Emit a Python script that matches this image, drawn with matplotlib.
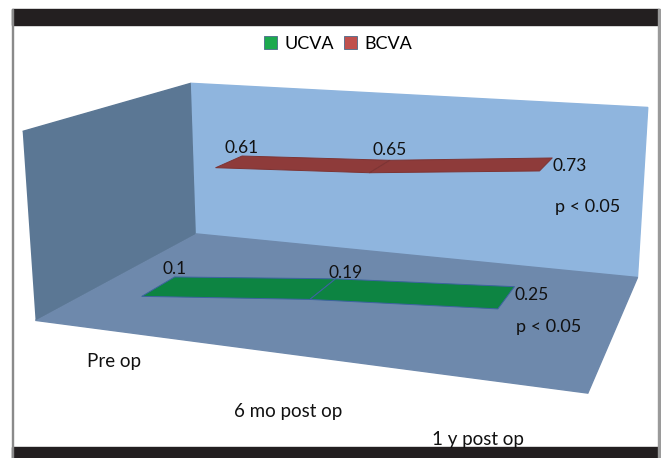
import numpy as np
import matplotlib
matplotlib.use("Agg")
import matplotlib.pyplot as plt
from matplotlib.patches import Patch, Rectangle
from matplotlib.text import Text
from mpl_toolkits.mplot3d.art3d import Poly3DCollection

plt.rcParams['font.family'] = ['Lato', 'DejaVu Sans']

categories = ['Pre op', '6 mo post op', '1 y post op']
ucva = [0.1, 0.19, 0.25]
bcva = [0.61, 0.65, 0.73]
series_names = ['UCVA', 'BCVA']
p_text = ['p < 0.05', 'p < 0.05']

ribbon_colors = ['#0d8442', '#8e3b3a']
ribbon_edges = ['#3d63a0', '#7d3434']
legend_colors = ['#1ca94e', '#c0504d']

W, H = 661, 458
fig = plt.figure(figsize=(W / 100, H / 100), dpi=100)
fig.patch.set_facecolor('white')

# frame: black bands top and bottom, grey side rules
fig.patches.append(Rectangle((12 / W, 1 - 25 / H), 647 / W, 16 / H,
                             transform=fig.transFigure, color='#231f20', zorder=0))
fig.patches.append(Rectangle((12 / W, 0), 647 / W, 11 / H,
                             transform=fig.transFigure, color='#231f20', zorder=0))
fig.patches.append(Rectangle((11.5 / W, 0), 1.6 / W, 449 / H,
                             transform=fig.transFigure, color='#8a8a8a', zorder=0))
fig.patches.append(Rectangle((658 / W, 0), 2 / W, 449 / H,
                             transform=fig.transFigure, color='#9a9a9a', zorder=0))

# 3-D box: elevation, azimuth and perspective of the chart view.
# The projected box is scaled by `scale` px per view unit and centred at (ox, oy).
scale, ox, oy = 3428.97, 353.13, 209.93
side = H
left = ox - side / 2
ax = fig.add_axes([left / W, 0, side / W, 1], projection='3d')
ax.view_init(elev=14.075, azim=-70.257)
ax.set_proj_type('persp', focal_length=0.3483)
ax.set_box_aspect((1, 0.6374, 0.3490))
ax.set_xlim(0, 3)
ax.set_ylim(0, 2)
ax.set_zlim(0, 1)
ax.viewLim.intervalx = ((left - ox) / scale, (left + side - ox) / scale)
ax.viewLim.intervaly = ((oy - H) / scale, oy / scale)
ax.patch.set_alpha(0)

pane_colors = {'x': '#5b7794', 'y': '#8fb5de', 'z': '#6e89ac'}
for name, axis in zip('xyz', (ax.xaxis, ax.yaxis, ax.zaxis)):
    axis.set_pane_color(pane_colors[name])
    axis.pane.set_edgecolor(pane_colors[name])
    axis.line.set_color((0, 0, 0, 0))
    axis.set_ticks([])
    axis.label.set_visible(False)
    axis.offsetText.set_visible(False)
ax.grid(False)

M = ax.get_proj()


def to_view(x, y, z):
    v = M @ np.array([x, y, z, 1.0])
    return v[0] / v[3], v[1] / v[3]


xs = np.arange(len(categories)) + 0.5
depth = [0.5, 1.5]
half = 0.2
label_ha = [['center', 'left', 'left'], ['center', 'center', 'left']]
label_va = ['bottom', 'bottom', 'top']
label_dz = [0.0, 0.015, 0.0]

for k, vals in enumerate([ucva, bcva]):
    yc = depth[k]
    quads = []
    for i in range(len(vals) - 1):
        quads.append([(xs[i], yc - half, vals[i]), (xs[i + 1], yc - half, vals[i + 1]),
                      (xs[i + 1], yc + half, vals[i + 1]), (xs[i], yc + half, vals[i])])
    ax.add_collection3d(Poly3DCollection(quads, facecolor=ribbon_colors[k],
                                         edgecolor=ribbon_edges[k], linewidth=0.7))
    # value labels at the back edge of the ribbon, projected to the view plane
    for i, v in enumerate(vals):
        dz = label_dz[i] if k == 1 else -label_dz[i]
        tx = xs[i] - (0.04 if (k, i) == (0, 1) else 0)
        px, py = to_view(tx, yc + half, v + dz)
        ax.text2D(px, py, '%g' % v, transform=ax.transData, ha=label_ha[k][i],
                  va=label_va[i], fontsize=12.5, color='#111111')

# legend
handles = [Patch(facecolor=legend_colors[k], edgecolor='#4a6a8a', linewidth=0.6,
                 label=series_names[k]) for k in range(2)]
fig.legend(handles=handles, loc='center', bbox_to_anchor=(338 / W, 1 - 44 / H),
           ncol=2, frameon=False, fontsize=13, handlelength=0.75, handleheight=0.75,
           handletextpad=0.4, columnspacing=0.55)

# category labels along the front of the floor
cat_pos = [(114, 362), (288, 411), (478, 440)]
for lab, (px, py) in zip(categories, cat_pos):
    fig.text(px / W, 1 - py / H, lab, ha='center', va='center', fontsize=13.5, color='#111111')

# significance notes beside each series
p_pos = [(516, 327), (555, 207)]
for t, (px, py) in zip(p_text, p_pos):
    fig.text(px / W, 1 - py / H, t, ha='left', va='center', fontsize=13, color='#111111')

# unused empty texts of the 3-D axes
for t in fig.findobj(Text):
    if not t.get_text():
        t.set_visible(False)

fig.savefig('out.png', dpi=100)
